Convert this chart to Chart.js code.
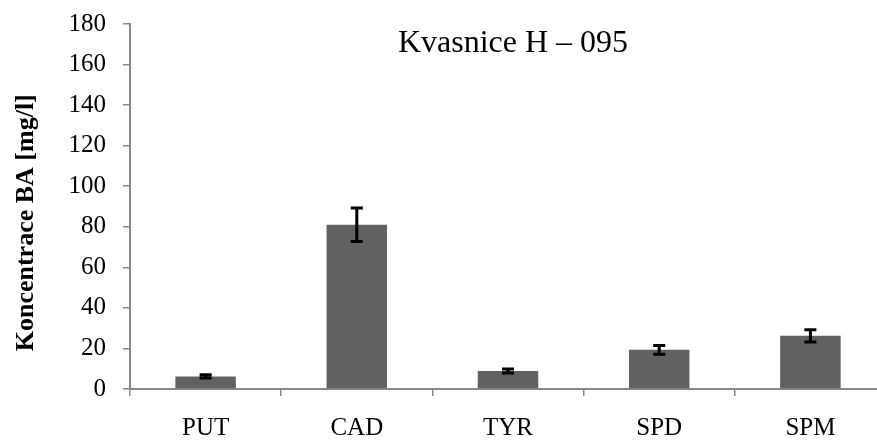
<!DOCTYPE html>
<html>
<head>
<meta charset="utf-8">
<script src="https://cdn.jsdelivr.net/npm/chart.js@4/dist/chart.umd.min.js"></script>
<style>
  html, body { margin: 0; padding: 0; background: #fff; overflow: hidden; }
  #wrap { width: 900px; height: 443px; }
</style>
</head>
<body>
<div id="wrap"><canvas id="myChart" width="900" height="443"></canvas></div>
<script>
// data
var labels = ['PUT', 'CAD', 'TYR', 'SPD', 'SPM']
var values = [6.2, 81, 8.9, 19.3, 26.2]
var errors = [0.8, 8.2, 1.0, 2.2, 3.0]
var yTicks = [0, 20, 40, 60, 80, 100, 120, 140, 160, 180]
var chartTitle = 'Kvasnice H \u2013 095'
var yTitle = 'Koncentrace BA [mg/l]\u00a0\u00a0\u00a0\u00a0\u00a0'

var serif = "'Liberation Serif', 'Times New Roman', serif"

// draws the +/- error bars on top of each bar
var errorBars = {
    id: 'errorBars',
    afterDatasetsDraw: function(chart){
        var ctx = chart.ctx
        var meta = chart.getDatasetMeta(0)
        var y = chart.scales.y
        ctx.save()
        ctx.strokeStyle = '#000'
        ctx.lineWidth = 3
        meta.data.forEach(function(bar, i){
            var hi = y.getPixelForValue(values[i] + errors[i])
            var lo = y.getPixelForValue(values[i] - errors[i])
            ctx.beginPath()
            ctx.moveTo(bar.x, hi); ctx.lineTo(bar.x, lo)
            ctx.moveTo(bar.x - 6, hi); ctx.lineTo(bar.x + 6, hi)
            ctx.moveTo(bar.x - 6, lo); ctx.lineTo(bar.x + 6, lo)
            ctx.stroke()
        })
        ctx.restore()
    }
}

// title sits inside the plot area, not above it
var innerTitle = {
    id: 'innerTitle',
    afterDraw: function(chart){
        var ctx = chart.ctx
        ctx.save()
        ctx.font = '32px ' + serif
        ctx.fillStyle = '#000'
        ctx.textAlign = 'center'
        ctx.textBaseline = 'alphabetic'
        ctx.fillText(chartTitle, 513, 52)
        ctx.restore()
    }
}

var myChart = new Chart(document.getElementById('myChart').getContext('2d'), {
    type: 'bar',
    data: {
        labels: labels,
        datasets: [{
            data: values,
            backgroundColor: '#616161',
            borderWidth: 0,
            barPercentage: 0.4,
            categoryPercentage: 1
        }]
    },
    options: {
        responsive: false,
        animation: false,
        devicePixelRatio: 1,
        layout: { padding: { top: 24, right: 14, bottom: 0, left: 0 } },
        plugins: {
            legend: { display: false },
            tooltip: { enabled: false }
        },
        scales: {
            x: {
                afterFit: function(scale){ scale.height = 54 },
                grid: { offset: true, drawOnChartArea: false, drawTicks: true, tickLength: 7, color: '#898989', lineWidth: 1.5 },
                border: { color: '#898989', width: 2 },
                ticks: { color: '#000', padding: 17, font: { family: serif, size: 25 } }
            },
            y: {
                min: 0,
                max: 180,
                afterFit: function(scale){
                    scale.width = 130
                    scale.paddingTop = 0
                    scale.paddingBottom = 0
                },
                afterBuildTicks: function(scale){ scale.ticks = yTicks.map(function(v){ return { value: v } }) },
                grid: { drawOnChartArea: false, drawTicks: true, tickLength: 7, color: '#898989', lineWidth: 1.5 },
                border: { color: '#898989', width: 2 },
                ticks: { color: '#000', padding: 17, font: { family: serif, size: 25 } },
                title: {
                    display: true,
                    text: yTitle,
                    color: '#000',
                    padding: { top: 11, bottom: 0 },
                    font: { family: serif, size: 26, weight: 'bold' }
                }
            }
        }
    },
    plugins: [errorBars, innerTitle]
})
</script>
</body>
</html>
